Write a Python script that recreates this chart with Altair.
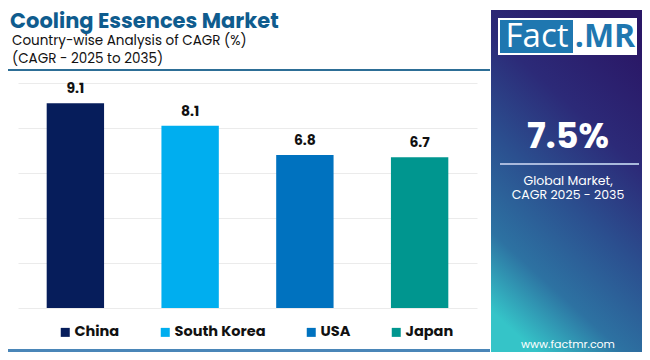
import altair as alt
import pandas as pd

countries = ["China", "South Korea", "USA", "Japan"]
cagr = [9.1, 8.1, 6.8, 6.7]
bar_colors = ["#061d5b", "#00aeef", "#0072bf", "#00968f"]
grid_values = [0, 2, 4, 6, 8, 10]

title_text = "Cooling Essences Market"
subtitle_1 = "Country-wise Analysis of CAGR (%)"
subtitle_2 = "(CAGR - 2025 to 2035)"
global_value = "7.5%"
global_label_1 = "Global Market,"
global_label_2 = "CAGR 2025 - 2035"
website = "www.factmr.com"

FONT = "Poppins, Inter, sans-serif"

df = pd.DataFrame({"country": countries, "cagr": cagr})
one = pd.DataFrame({"a": [0]})

x_enc = alt.X("country:N", sort=countries,
              scale=alt.Scale(paddingInner=0.5, paddingOuter=0.25), axis=None)
y_enc = alt.Y("cagr:Q", scale=alt.Scale(domain=[0, 10]),
              axis=alt.Axis(values=grid_values, grid=True, labels=False, ticks=False,
                            domain=False, title=None, gridColor="#ebebeb", gridWidth=1))

bars = alt.Chart(df).mark_bar().encode(
    x=x_enc,
    y=y_enc,
    color=alt.Color("country:N", sort=countries,
                    scale=alt.Scale(domain=countries, range=bar_colors),
                    legend=alt.Legend(orient="none", legendX=40, legendY=242,
                                      direction="horizontal", columns=4, title=None,
                                      symbolType="square", symbolSize=81,
                                      symbolStrokeWidth=0, labelFont=FONT,
                                      labelFontSize=14.5, labelFontWeight="bold",
                                      labelColor="#111111", columnPadding=38,
                                      labelOffset=2, padding=0)),
)

labels = alt.Chart(df).mark_text(dy=-10, baseline="alphabetic", font=FONT,
                                 fontSize=14, fontWeight="bold", color="#111111").encode(
    x=x_enc, y=y_enc, text=alt.Text("cagr:Q", format=".1f")
)


def rect(x, x2, y, y2, color):
    return alt.Chart(one).mark_rect(color=color).encode(
        x=alt.value(x), x2=alt.value(x2), y=alt.value(y), y2=alt.value(y2))


def text(t, x, y, size, color, weight="normal", align="left", font=FONT):
    return alt.Chart(one).mark_text(text=t, align=align, baseline="alphabetic",
                                    font=font, fontSize=size, fontWeight=weight,
                                    color=color).encode(x=alt.value(x), y=alt.value(y))


gradient = alt.LinearGradient(
    gradient="linear",
    stops=[alt.GradientStop(color="#2a1766", offset=0),
           alt.GradientStop(color="#2c2a78", offset=0.3),
           alt.GradientStop(color="#2b4f8f", offset=0.55),
           alt.GradientStop(color="#2d72a2", offset=0.8),
           alt.GradientStop(color="#35c4c8", offset=1)],
    x1=0.7, y1=0, x2=0.3, y2=1,
)

panel = alt.Chart(one).mark_rect(color=gradient).encode(
    x=alt.value(473), x2=alt.value(624), y=alt.value(-73), y2=alt.value(269))

layers = [
    panel,
    rect(480, 619, -65, -28, "#ffffff"),
    rect(482, 555, -63, -30, "#1f77b0"),
    text("Fact", 519, -36, 33, "#ffffff", align="center", font="Open Sans"),
    text(".MR", 587, -36, 32, "#1f77b0", weight="bold", align="center", font="Open Sans"),
    text(global_value, 550, 65, 35, "#ffffff", weight="bold", align="center"),
    rect(482, 621, 80, 82, "#a9b9dc"),
    text(global_label_1, 550, 102, 12.5, "#ffffff", align="center"),
    text(global_label_2, 550, 116, 12.5, "#ffffff", align="center"),
    text(website, 550, 265, 11, "#ffffff", align="center"),
    text(title_text, -8, -55, 21, "#0f5c8e", weight="bold"),
    text(subtitle_1, -6, -38, 13.5, "#111111"),
    text(subtitle_2, -6, -20, 13.5, "#111111"),
    rect(-10, 472, -14, -12, "#2d6e96"),
    rect(-10, 472, 266, 269, "#4a86b8"),
    bars,
    labels,
]

chart = alt.layer(*layers).properties(
    width=459, height=225,
    padding={"left": 10, "top": 75, "right": 165, "bottom": 44},
    autosize=alt.AutoSizeParams(type="none"),
    background="#ffffff",
).configure_view(stroke=None)

chart.save("out.html", embed_options={"renderer": "svg", "actions": False})
